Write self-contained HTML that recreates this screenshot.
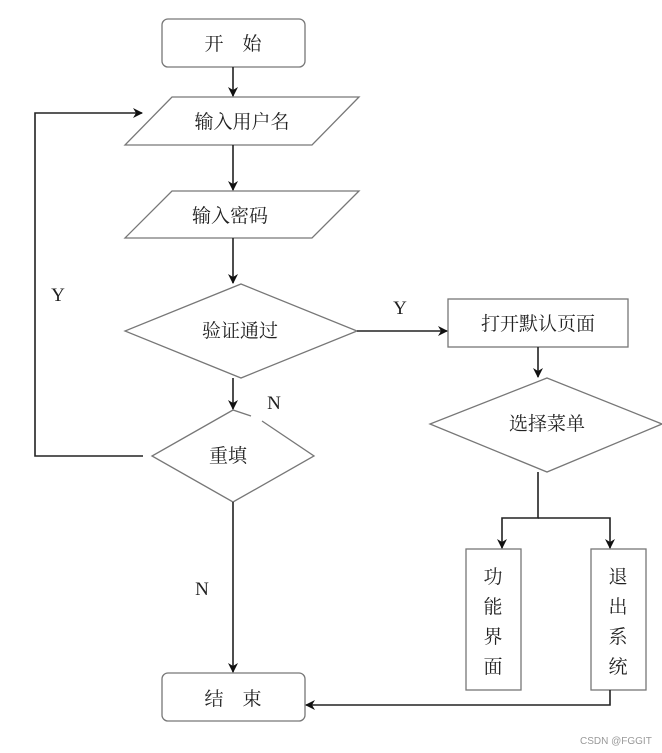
<!DOCTYPE html>
<html><head><meta charset="utf-8"><style>
body{margin:0;background:#fff;}
svg{display:block;}
text{font-family:"Liberation Serif","Noto Serif CJK SC",serif;fill:#222;}
</style></head><body>
<svg width="662" height="753" viewBox="0 0 662 753" xmlns="http://www.w3.org/2000/svg">
<defs><marker id="a" markerWidth="10" markerHeight="10" refX="9" refY="5" orient="auto" markerUnits="userSpaceOnUse"><path d="M0,0 L10,5 L0,10 L3,5 z" fill="#111"/></marker></defs>
<g fill="none" stroke="#777" stroke-width="1.3">
<rect x="162" y="19" width="143" height="48" rx="6"/>
<polygon points="172,97 359,97 312,145 125,145"/>
<polygon points="172,191 359,191 312,238 125,238"/>
<polygon points="241,284 357,331 241,378 125,331"/>
<rect x="448" y="299" width="180" height="48"/>
<polygon points="547,378 662,424 547,472 430,424"/>
<rect x="466" y="549" width="55" height="141"/>
<rect x="591" y="549" width="55" height="141"/>
<polyline points="251,416 233,410 152,456 233,502 314,456 262,421"/>
<rect x="162" y="673" width="143" height="48" rx="6"/>
</g>
<g fill="none" stroke="#222" stroke-width="1.6">
<line x1="233" y1="67" x2="233" y2="96" marker-end="url(#a)"/>
<line x1="233" y1="145" x2="233" y2="190" marker-end="url(#a)"/>
<line x1="233" y1="238" x2="233" y2="283" marker-end="url(#a)"/>
<line x1="357" y1="331" x2="447" y2="331" marker-end="url(#a)"/>
<line x1="538" y1="347" x2="538" y2="377" marker-end="url(#a)"/>
<polyline points="538,472 538,518 502,518 502,548" marker-end="url(#a)"/>
<polyline points="538,518 610,518 610,548" marker-end="url(#a)"/>
<polyline points="610,690 610,705 306,705" marker-end="url(#a)"/>
<line x1="233" y1="378" x2="233" y2="409" marker-end="url(#a)"/>
<polyline points="143,456 35,456 35,113 142,113" marker-end="url(#a)"/>
<line x1="233" y1="502" x2="233" y2="672" marker-end="url(#a)"/>
</g>
<g font-size="19" text-anchor="middle">
<text x="233" y="50">开　始</text>
<text x="242" y="128">输入用户名</text>
<text x="230" y="222">输入密码</text>
<text x="240" y="337">验证通过</text>
<text x="538" y="330">打开默认页面</text>
<text x="547" y="430">选择菜单</text>
<text x="228" y="462">重填</text>
<text x="233" y="705">结　束</text>
<text x="493" y="583">功</text><text x="493" y="613">能</text><text x="493" y="643">界</text><text x="493" y="673">面</text>
<text x="618" y="583">退</text><text x="618" y="613">出</text><text x="618" y="643">系</text><text x="618" y="673">统</text>
<text x="400" y="314">Y</text>
<text x="58" y="301">Y</text>
<text x="274" y="409">N</text>
<text x="202" y="595">N</text>
</g>
<text x="580" y="744" font-size="10" style="font-family:'Liberation Sans',sans-serif;fill:#999">CSDN @FGGIT</text>
</svg>
</body></html>
